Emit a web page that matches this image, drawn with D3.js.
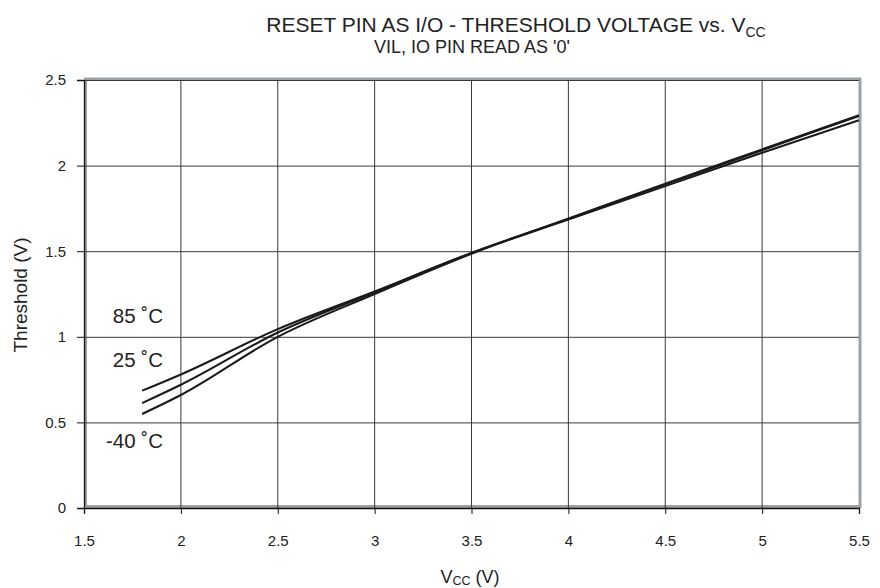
<!DOCTYPE html>
<html><head><meta charset="utf-8">
<script src="https://cdn.jsdelivr.net/npm/d3@7"></script>
<style>body{margin:0;background:#fff}svg{display:block}text{font-family:"Liberation Sans",Arial,sans-serif;fill:#222}</style>
</head><body>
<svg id="c" width="880" height="588"></svg>
<script>
const vcc = [1.8, 2.0, 2.5, 3.0, 3.5, 4.0, 4.5, 5.0, 5.5];
const t85 = [0.685, 0.78, 1.045, 1.265, 1.49, 1.685, 1.88, 2.075, 2.265];
const t25 = [0.613, 0.72, 1.025, 1.26, 1.49, 1.69, 1.89, 2.09, 2.29];
const tm40 = [0.549, 0.66, 1.0, 1.25, 1.485, 1.69, 1.895, 2.095, 2.295];
const seriesNames = ["85 ˚C", "25 ˚C", "-40 ˚C"];
const xTicks = [1.5, 2, 2.5, 3, 3.5, 4, 4.5, 5, 5.5];
const yTicks = [0, 0.5, 1, 1.5, 2, 2.5];

const svg = d3.select("#c");
const L = 84, R = 859, T = 80, B = 508;
const x = d3.scaleLinear().domain([1.5, 5.5]).range([L, R]);
const y = d3.scaleLinear().domain([0, 2.5]).range([B, T]);

// grey plot frame (inset)
svg.append("rect").attr("x", L + 1.5).attr("y", T - 1).attr("width", R - L - 0.5).attr("height", B - T - 0.5)
  .attr("fill", "none").attr("stroke", "#9ca1a6").attr("stroke-width", 3);
// grid
svg.append("g").selectAll("line").data(xTicks.slice(1, -1)).join("line")
  .attr("x1", d => x(d)).attr("x2", d => x(d)).attr("y1", T).attr("y2", B)
  .attr("stroke", "#3a3a3a").attr("stroke-width", 1);
svg.append("g").selectAll("line").data(yTicks.slice(1)).join("line")
  .attr("x1", L).attr("x2", R).attr("y1", d => y(d) + 0.5).attr("y2", d => y(d) + 0.5)
  .attr("stroke", "#3a3a3a").attr("stroke-width", 1);

// axes
const xa = svg.append("g").attr("transform", `translate(0,${B})`)
  .call(d3.axisBottom(x).tickValues(xTicks).tickSize(6).tickPadding(21).tickFormat(d3.format("")));
const ya = svg.append("g").attr("transform", `translate(${L},0)`)
  .call(d3.axisLeft(y).tickValues(yTicks).tickSize(7).tickPadding(11).tickFormat(d3.format("")));
[xa, ya].forEach(a => {
  a.select(".domain").attr("stroke", "#111").attr("stroke-width", 1.3);
  a.selectAll(".tick line").attr("stroke", "#111");
  a.selectAll("text").attr("font-size", 15).attr("fill", "#222").style("font-family", "Liberation Sans, Arial, sans-serif");
});

// curves
const line = d3.line().x(d => x(d[0])).y(d => y(d[1])).curve(d3.curveMonotoneX);
[t85, t25, tm40].forEach(s => {
  svg.append("path").datum(vcc.map((v, i) => [v, s[i]])).attr("d", line)
    .attr("fill", "none").attr("stroke", "#1a1a1a").attr("stroke-width", 2);
});

// series labels
const labY = [316, 360, 441];
seriesNames.forEach((n, i) => {
  svg.append("text").attr("x", 163).attr("y", labY[i]).attr("dy", "0.36em")
    .attr("text-anchor", "end").attr("font-size", 20.5).text(n);
});

// titles
const t = svg.append("text").attr("x", 516).attr("y", 32).attr("text-anchor", "middle").attr("font-size", 21);
t.append("tspan").text("RESET PIN AS I/O - THRESHOLD VOLTAGE vs. V");
t.append("tspan").attr("font-size", 14).attr("dy", 5).text("CC");
svg.append("text").attr("x", 472).attr("y", 53).attr("text-anchor", "middle").attr("font-size", 18)
  .text("VIL, IO PIN READ AS '0'");
const xl = svg.append("text").attr("x", 470).attr("y", 583).attr("text-anchor", "middle").attr("font-size", 18);
xl.append("tspan").text("V");
xl.append("tspan").attr("font-size", 12.5).attr("dy", 2).text("CC");
xl.append("tspan").attr("dy", -2).text(" (V)");
svg.append("text").attr("transform", "translate(27,295) rotate(-90)").attr("text-anchor", "middle")
  .attr("font-size", 19).text("Threshold (V)");
</script>
</body></html>
